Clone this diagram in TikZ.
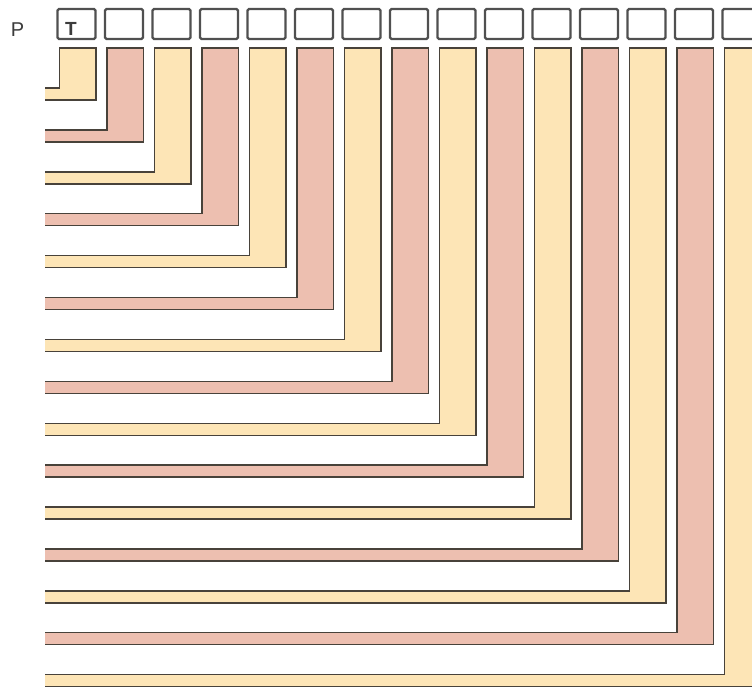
\documentclass[tikz,border=0pt]{standalone}
\usepackage{fontspec}
\setsansfont{Liberation Sans}
\definecolor{yel}{RGB}{253,229,182}
\definecolor{pnk}{RGB}{237,191,176}
\definecolor{edgec}{RGB}{72,66,58}
\definecolor{boxc}{RGB}{80,80,80}
\definecolor{txtc}{RGB}{60,60,60}
\tikzset{
  topbox/.style={draw=boxc, line width=2.4pt, fill=white, rounded corners=1.5pt,
    minimum width=38pt, minimum height=30pt, inner sep=0pt},
  ledge/.style={draw=edgec, line width=1.4pt, line join=miter},
  lbl/.style={text=txtc, font=\sffamily\fontsize{20}{22}\selectfont, inner sep=0pt}
}
\begin{document}
\begin{tikzpicture}[x=1pt,y=-1pt]
\useasboundingbox (0,0) rectangle (752,688);
\clip (0,0) rectangle (752,688);
\fill[white] (0,0) rectangle (752,688);
\node[lbl] (p) at (17.5,29.5) {P};
\foreach \k/\c in {1/yel,2/pnk,3/yel,4/pnk,5/yel,6/pnk,7/yel,8/pnk,9/yel,10/pnk,11/yel,12/pnk,13/yel,14/pnk,15/yel} {
  \pgfmathsetmacro\xl{57+47.5*(\k-1)}
  \pgfmathsetmacro\a{\xl+2.5}
  \pgfmathsetmacro\b{\xl+39}
  \pgfmathsetmacro\B{100+41.9*(\k-1)}
  \pgfmathsetmacro\I{\B-12}
  \node[topbox] (box\k) at (\xl+19.5,24) {};
  \fill[\c] (45,\I) -- (\a,\I) -- (\a,48) -- (\b,48) -- (\b,\B) -- (45,\B) -- cycle;
  \draw[ledge] (45,\I) -- (\a,\I) -- (\a,48) -- (\b,48) -- (\b,\B) -- (45,\B);
}
\node[text=txtc, font=\sffamily\bfseries\fontsize{19}{20}\selectfont, inner sep=0pt] (t) at (71,29) {T};
\end{tikzpicture}
\end{document}
